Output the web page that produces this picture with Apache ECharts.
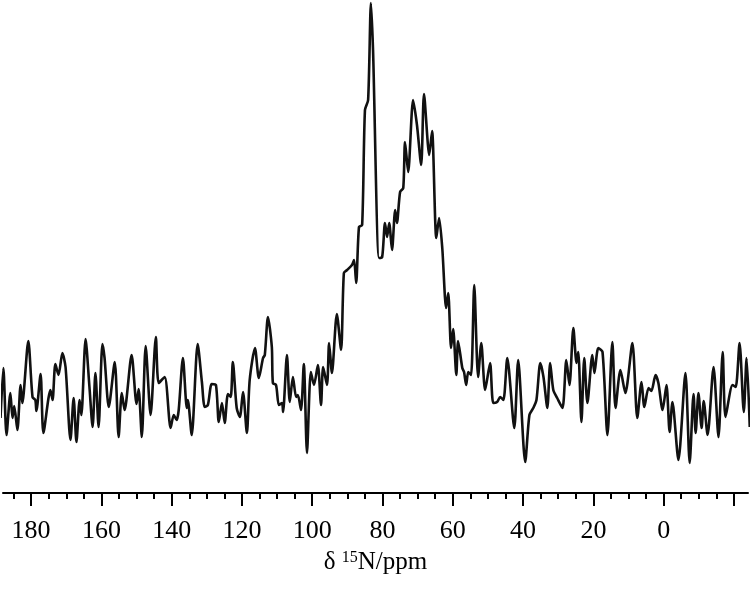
<!DOCTYPE html>
<html>
<head>
<meta charset="utf-8">
<title>15N NMR</title>
<script src="https://cdn.jsdelivr.net/npm/echarts@6/dist/echarts.min.js"></script>
<style>
	html, body { margin: 0; padding: 0; background: #fff; }
	#chart { width: 750px; height: 589px; }
</style>
</head>
<body>
<div id="chart"></div>
<script>
	// chemical shift (ppm)
	var ppm = [188.7, 187.9, 187.0, 185.9, 185.3, 184.8, 183.9, 183.0, 182.5, 180.8,
		179.6, 178.8, 178.5, 177.3, 176.5, 174.5, 173.9, 173.1, 172.2, 171.1,
		170.2, 168.8, 167.9, 167.1, 166.2, 165.7, 164.5, 163.4, 162.5, 161.7,
		160.8, 159.7, 159.1, 157.9, 156.2, 155.1, 154.2, 153.4, 151.4, 150.0,
		149.4, 148.5, 147.4, 146.0, 144.5, 143.7, 142.0, 140.3, 139.4, 138.6,
		138.0, 136.8, 135.7, 135.4, 134.3, 132.6, 131.4, 130.6, 129.7, 128.6,
		127.4, 126.6, 125.7, 124.9, 124.0, 123.2, 122.6, 121.5, 120.6, 119.7,
		118.6, 117.8, 116.3, 115.2, 114.0, 113.5, 112.6, 111.5, 111.2, 110.3,
		109.5, 108.6, 108.3, 107.2, 106.4, 105.5, 104.6, 104.1, 103.2, 102.4,
		101.5, 100.4, 99.5, 98.4, 97.5, 96.9, 95.8, 95.2, 94.4, 93.0,
		91.8, 91.0, 90.1, 88.7, 88.1, 87.5, 86.7, 85.8, 85.0, 84.1,
		83.3, 82.7, 81.0, 80.1, 79.3, 78.7, 78.1, 77.3, 76.4, 75.9,
		75.0, 74.1, 73.6, 72.7, 71.3, 70.2, 69.0, 68.2, 66.7, 65.9,
		64.7, 63.9, 63.0, 61.9, 61.3, 60.5, 59.9, 59.0, 58.5, 57.3,
		56.8, 56.2, 55.6, 54.8, 53.9, 52.8, 51.9, 50.8, 49.4, 48.5,
		47.4, 46.5, 45.6, 44.5, 42.5, 41.4, 39.4, 38.2, 37.1, 36.2,
		35.1, 34.2, 33.1, 32.3, 31.4, 30.3, 28.8, 27.7, 26.8, 25.7,
		24.8, 24.3, 23.4, 22.6, 21.7, 20.3, 19.7, 18.6, 17.4, 16.0,
		14.6, 13.7, 12.3, 10.9, 8.9, 7.5, 6.3, 5.5, 4.3, 3.5,
		2.3, 1.5, 0.3, -0.8, -1.7, -2.5, -4.2, -6.2, -7.4, -8.5,
		-9.1, -9.9, -10.8, -11.4, -12.5, -14.2, -15.6, -16.8, -17.6, -19.6,
		-20.5, -21.6, -22.8, -23.6, -24.5];
	// intensity (arbitrary units)
	var intensity = [75, 125, 58, 100, 75, 87, 63, 108, 90, 152,
		96, 93, 82, 119, 60, 103, 93, 129, 118, 140,
		126, 53, 95, 51, 93, 78, 154, 106, 66, 120,
		66, 149, 135, 86, 131, 56, 100, 83, 138, 89,
		104, 56, 147, 78, 156, 110, 116, 65, 78, 73,
		83, 135, 85, 93, 58, 149, 111, 86, 88, 109,
		108, 71, 90, 70, 99, 96, 131, 85, 76, 101,
		60, 113, 145, 115, 135, 138, 176, 146, 110, 108,
		88, 90, 81, 138, 91, 116, 96, 98, 83, 129,
		40, 121, 108, 128, 88, 126, 108, 150, 120, 179,
		143, 220, 223, 228, 233, 210, 266, 268, 383, 393,
		490, 443, 235, 236, 270, 256, 270, 243, 283, 270,
		301, 305, 351, 321, 393, 368, 328, 399, 338, 362,
		255, 275, 245, 185, 200, 145, 164, 118, 152, 125,
		121, 108, 121, 118, 208, 116, 150, 103, 130, 90,
		91, 96, 93, 135, 65, 133, 31, 78, 85, 93,
		130, 116, 85, 130, 103, 95, 85, 133, 108, 165,
		130, 141, 71, 135, 90, 138, 120, 145, 141, 58,
		151, 85, 123, 100, 150, 75, 111, 86, 105, 102,
		118, 110, 83, 108, 61, 91, 33, 120, 30, 99,
		60, 100, 65, 92, 58, 126, 56, 141, 76, 108,
		106, 150, 81, 135, 66];
	var majorTicks = [180, 160, 140, 120, 100, 80, 60, 40, 20, 0, -20];
	var tickLabels = [180, 160, 140, 120, 100, 80, 60, 40, 20, 0];
	var minorTicks = [185, 175, 170, 165, 155, 150, 145, 135, 130, 125, 115, 110, 105,
		95, 90, 85, 75, 70, 65, 55, 50, 45, 35, 30, 25, 15, 10, 5, -5, -10, -15];

	var points = ppm.map(function (p, i) { return [p, intensity[i]]; });

	var serif = '"Liberation Serif", "DejaVu Serif", serif';
	var chart = echarts.init(document.getElementById('chart'));
	chart.setOption({
		animation: false,
		grid: { left: 3, right: 2, top: 0, bottom: 96 },
		xAxis: [{
			type: 'value',
			inverse: true,
			min: -24,
			max: 188,
			splitLine: { show: false },
			axisLine: { lineStyle: { color: '#000', width: 2 } },
			axisTick: { inside: false, length: 13, customValues: majorTicks, lineStyle: { color: '#000', width: 2 } },
			axisLabel: {
				customValues: tickLabels,
				margin: 25,
				color: '#000',
				fontFamily: serif,
				fontSize: 26
			},
			name: '{a|δ }{b|15}{a|N/ppm}',
			nameLocation: 'middle',
			nameGap: 57,
			nameTextStyle: {
				rich: {
					a: { fontFamily: serif, fontSize: 25, color: '#000', verticalAlign: 'bottom' },
					b: { fontFamily: serif, fontSize: 16, color: '#000', verticalAlign: 'bottom', padding: [0, 0, 9, 0] }
				}
			}
		}, {
			// minor ticks only
			type: 'value',
			inverse: true,
			position: 'bottom',
			min: -24,
			max: 188,
			splitLine: { show: false },
			axisLine: { show: false },
			axisTick: { length: 6, customValues: minorTicks, lineStyle: { color: '#000', width: 2 } },
			axisLabel: { show: false }
		}],
		yAxis: {
			type: 'value',
			min: 0,
			max: 493,
			show: false
		},
		series: [{
			type: 'line',
			data: points,
			showSymbol: false,
			smooth: 0.25,
			clip: true,
			lineStyle: { color: '#111', width: 2.6 }
		}]
	});
</script>
</body>
</html>
